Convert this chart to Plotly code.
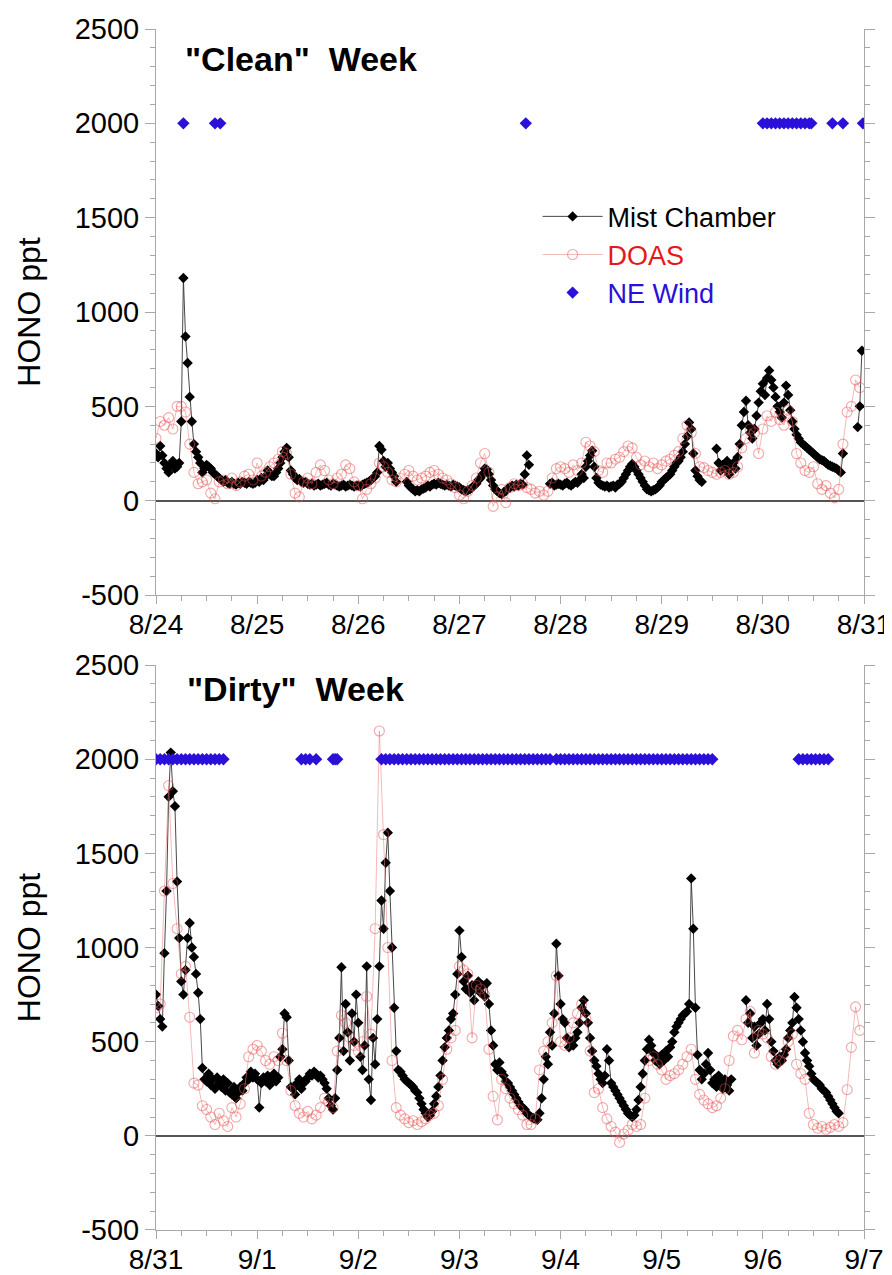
import plotly.graph_objects as go

# ---------------- data ----------------
# x positions are hours since the start of each week (0 = first date label)
CLEAN_TICKS = ["8/24", "8/25", "8/26", "8/27", "8/28", "8/29", "8/30", "8/31"]
DIRTY_TICKS = ["8/31", "9/1", "9/2", "9/3", "9/4", "9/5", "9/6", "9/7"]
TICK_HOURS = [0, 24, 48, 72, 96, 120, 144, 168]
Y_TICKS = [-500, 0, 500, 1000, 1500, 2000, 2500]
Y_TICK_TEXT = ["-500", "0", "500", "1000", "1500", "2000", "2500"]

MIST_STEP = 0.5   # mist chamber samples every half hour
DOAS_STEP = 1.0   # DOAS samples hourly

# Mist chamber, "Clean" week (half-hourly, ppt)
MIST_CLEAN = [
    # 8/24
    250, 230, 290, 240, 200, 170, 150, 190, 210, 170, 180, 200,
    420, 1180, 870, 730, 550, 420, 300, 260, 230, 200, 150, 170,
    190, 180, 170, 150, 140, 130, 120, 110, 100, 110, 95, 90,
    100, 90, 85, 95, 90, 100, 95, 90, 100, 95, 90, 95,
    # 8/25
    110, 100, 120, 110, 130, 160, 140, 130, 130, 150, 170, 200,
    230, 260, 280, 230, 160, 140, 120, 110, 115, 100, 95, 100,
    90, 85, 90, 80, 85, 90, 80, 85, 90, 95, 85, 80,
    90, 85, 80, 75, 80, 85, 75, 80, 85, 80, 75, 80,
    # 8/26
    80, 75, 85, 90, 95, 100, 110, 120, 130, 150, 290, 270,
    210, 180, 200, 170, 150, 130, 100, None, None, None, None, 100,
    80, 70, 60, 50, 55, 50, 60, 65, 70, 80, 75, 85,
    90, 85, 95, 90, 85, 80, 85, 80, 75, 85, 80, 75,
    # 8/27
    70, 60, 55, 50, 55, 60, 70, 80, 90, 110, 120, 140,
    170, 165, 140, 110, 80, 60, 50, 40, 35, 45, 50, 65,
    70, 80, 75, 85, 80, 90, 85, 140, 240, 190, None, None,
    None, None, None, None, None, None, None, 90, 95, 80, 85, 90,
    # 8/28
    85, 80, 90, 95, 85, 80, 90, 100, 95, 110, 140, 120,
    180, 210, 240, 265, 180, 120, 95, 85, 80, 75, 80, 70,
    75, 80, 70, 85, 90, 100, 120, 140, 160, 180, 195, 180,
    160, 140, 120, 100, 80, 60, 55, 50, 55, 60, 70, 80,
    # 8/29
    100, 110, 120, 130, 140, 160, 180, 200, 210, 230, 260, 300,
    340, 415, 380, 250, 160, 130, 110, 100, None, None, None, None,
    None, None, 275, 200, 160, 190, 170, 210, 140, 180, 200, 170,
    230, 300, 400, 470, 530, 400, 360, 330, 380, 450, 520, 580,
    # 8/30
    620, 560, 650, 690, 640, 600, 550, 500, 470, 440, 520, 610,
    560, 480, 420, 380, 350, 330, 310, 300, 290, 280, 270, 260,
    250, 240, 230, 220, 215, 210, 200, 190, 185, 180, 175, 170,
    160, 150, 250, None, None, None, None, None, None, 390, 500, 795,
]

# DOAS, "Clean" week (hourly, ppt)
DOAS_CLEAN = [
    330, 420, 400, 440, 380, 500, 500, 470, 300, 150, 90, 100, 110, 40, 10, 100, 110, 90, 120, 80, 100, 130, 140, 110,
    200, 130, 150, 180, 200, 220, 260, 250, 140, 40, 20, 100, 120, 90, 150, 190, 160, 110, 90, 120, 140, 190, 170, 100,
    80, 10, 60, 90, 120, 200, 180, 150, 110, 100, 120, 140, 160, 130, 110, 120, 130, 150, 160, 140, 120, 110, 90, 70,
    30, 10, 50, 80, 120, 200, 250, 150, -30, 20, 60, -10, 70, 90, 80, 90, 70, 60, 40, 50, 30, 50, 120, 170,
    180, 170, 150, 190, 160, 200, 310, 290, 260, 160, 150, 200, 200, 220, 230, 260, 290, 280, 230, 190, 210, 180, 200, 170,
    190, 210, 220, 240, 260, 330, 400, 360, 250, 180, 175, 160, 150, 140, 150, 160, 140, 150, 180, 280, 330, 380, 360, 250,
    380, 450, 420, 470, 430, 400, 480, 420, 250, 200, 160, 150, 180, 90, 60, 80, 40, 15, 60, 300, 470, 500, 640, 600,
]

# Mist chamber, "Dirty" week (half-hourly, ppt)
MIST_DIRTY = [
    # 8/31
    750, 690, 620, 580, 970, 1300, 1800, 2035, 1830, 1750, 1350, 1050,
    820, 750, 880, 1050, 1130, 1000, 950, 860, 760, 620, 360, 300,
    290, 330, 270, 300, 250, 310, 280, 260, 300, 240, 280, 230,
    220, 260, 200, 230, 260, 240, 280, 310, 300, 340, 310, 330,
    # 9/1
    300, 150, 280, 310, 290, 320, 270, 300, 330, 290, 310, 420,
    460, 650, 630, 400, 260, 250, 220, 280, 300, 250, 280, 290,
    310, 330, 320, 340, 330, 310, 320, 300, 280, 250, 200, 160,
    140, 200, 350, 520, 895, 450, 700, 550, 400, 650, 500, 750,
    # 9/2
    600, 420, 350, 480, 900, 300, 190, 520, 380, 620, 900, 1250,
    1100, 1450, 1610, 1300, 1000, 680, 450, 350, 340, 320, 300, 290,
    280, 270, 260, 240, 230, 200, 170, 140, 120, 100, 110, 130,
    170, 210, 260, 320, 400, 470, 520, 560, 620, 650, 750, 860,
    # 9/3
    1090, 950, 820, 780, 850, 760, 800, 720, 780, 820, 760, 800,
    740, 810, 700, 560, 480, 380, 350, 390, 340, 320, 290, 280,
    260, 240, 220, 200, 180, 160, 150, 140, 120, 110, 100, 95,
    90, 85, 120, 200, 300, 420, 380, 550, 480, 650, 1020, 850,
    # 9/4
    700, 620, 600, 520, 470, 500, 480, 520, 550, 600, 680, 720,
    650, 600, 520, 450, 400, 370, 330, 300, 280, 320, 460, 400,
    280, 260, 240, 220, 200, 180, 160, 140, 120, 110, 100, 110,
    140, 190, 260, 330, 400, 460, 510, 480, 440, 400, 420, 380,
    # 9/5
    430, 400, 450, 420, 470, 500, 550, 580, 600, 620, 640, 650,
    660, 700, 1367, 1100, 680, 430, 350, 300, 330, 380, 440, 350,
    280, 300, 260, 320, 290, 250, 300, 270, 240, 300, None, None,
    None, None, None, None, 720, 600, 650, 520, 580, 480, 540, 600,
    # 9/6
    620, 560, 700, 620, 500, 450, 400, 380, 420, 400, 430, 460,
    520, 560, 600, 737, 680, 620, 560, 500, 440, 400, 370, 330,
    300, 290, 280, 270, 250, 240, 230, 210, 190, 170, 150, 130,
    120, None, None, None, None, None, None, None, None, None, None, None,
]

# DOAS, "Dirty" week (hourly, ppt)
DOAS_DIRTY = [
    680, 700, 1300, 1860, 1340, 1100, 860, 900, 630, 280, 270, 160, 140, 100, 60, 120, 80, 50, 150, 100, 170, 250, 420, 460,
    480, 450, 400, 380, 420, 400, 545, 400, 240, 160, 120, 100, 130, 90, 110, 150, 200, 180, 150, 450, 640, 600, 520, 480,
    450, 500, 740, 540, 1100, 2150, 1600, 1000, 400, 150, 110, 90, 70, 80, 60, 75, 90, 110, 120, 160, 300, 460, 520, 560,
    900, 880, 860, 520, 800, 780, 750, 460, 210, 85, 300, 250, 200, 170, 140, 110, 60, 60, 90, 350, 450, 500, 600, 850,
    500, 480, 520, 600, 650, 700, 620, 450, 230, 250, 150, 90, 50, 20, -35, 10, 30, 60, 50, 60, 200, 400, 420, 380,
    350, 300, 320, 330, 350, 380, 420, 460, 300, 220, 190, 170, 150, 160, 200, 250, 400, 530, 560, 510, 620, 660, 440, 560,
    540, 520, 420, 380, 400, 440, 500, 540, 380, 330, 300, 120, 60, 40, 50, 35, 45, 60, 50, 70, 245, 470, 685, 560,
]

# Hours with north-east wind (plotted at a flag level of 2000 ppt)
WIND_LEVEL = 2000
WIND_CLEAN_H = [6.5, 14, 15.25, 87.75,
                144, 145, 146, 147, 148, 149, 150, 151, 152, 153, 154, 155, 155.5,
                160.5, 163, 167.75]
WIND_DIRTY_H = [0, 1, 2, 3, 4, 5, 6, 7, 8, 9, 10, 11, 12, 13, 14, 15, 16,
                34.5, 35.5, 36.5, 38,
                42, 42.5, 43,
                53.5, 54.5, 55.5, 56.5, 57.5, 58.5, 59.5, 60.5, 61.5, 62.5, 63.5, 64.5, 65.5, 66.5,
                67.5, 68.5, 69.5, 70.5, 71.5, 72.5, 73.5, 74.5, 75.5, 76.5, 77.5, 78.5, 79.5, 80.5,
                81.5, 82.5, 83.5, 84.5, 85.5, 86.5, 87.5, 88.5, 89.5, 90.5, 91.5, 92.5, 93.5,
                95, 96, 97, 98, 99, 100, 101, 102, 103, 104, 105, 106, 107, 108, 109, 110, 111, 112,
                113, 114, 115, 116, 117, 118, 119, 120, 121, 122, 123, 124, 125, 126, 127, 128, 129,
                130, 131, 132,
                152.5, 153.5, 154.5, 155.5, 156.5, 157.5, 158.5, 159.5]

# ---------------- styling ----------------
FONT = "Liberation Sans, Arial, Helvetica, sans-serif"
BLUE = "#2a10d8"
RED_TXT = "#e3191c"
DOAS_MARK = "rgba(232,80,80,0.5)"
DOAS_LINE = "rgba(235,130,130,0.7)"
AXIS_GRAY = "#a8a8a8"


def hours(n, step):
    return [i * step for i in range(n)]


fig = go.Figure()

panels = [
    ("x", "y", MIST_CLEAN, DOAS_CLEAN, WIND_CLEAN_H, True),
    ("x2", "y2", MIST_DIRTY, DOAS_DIRTY, WIND_DIRTY_H, False),
]
for xa, ya, mist, doas, wind, show in panels:
    fig.add_trace(go.Scatter(
        x=hours(len(mist), MIST_STEP), y=mist, xaxis=xa, yaxis=ya,
        mode="lines+markers", name="Mist Chamber", showlegend=show,
        line=dict(color="#333333", width=0.9),
        marker=dict(symbol="diamond", size=8, color="black"),
        connectgaps=False,
    ))
    fig.add_trace(go.Scatter(
        x=hours(len(doas), DOAS_STEP), y=doas, xaxis=xa, yaxis=ya,
        mode="lines+markers",
        name='<span style="color:%s">DOAS</span>' % RED_TXT, showlegend=show,
        line=dict(color=DOAS_LINE, width=0.8),
        marker=dict(symbol="circle-open", size=10, color=DOAS_MARK, line=dict(width=1.1)),
    ))
    fig.add_trace(go.Scatter(
        x=wind, y=[WIND_LEVEL] * len(wind), xaxis=xa, yaxis=ya,
        mode="markers",
        name='<span style="color:%s">NE Wind</span>' % BLUE, showlegend=show,
        marker=dict(symbol="diamond", size=9.5, color=BLUE, line=dict(width=0)),
    ))

xcommon = dict(
    range=[0, 168], tickmode="array", tickvals=TICK_HOURS, automargin=False,
    ticklabeloverflow="allow", ticklabelstandoff=-4,
    showline=True, linecolor=AXIS_GRAY, linewidth=1, mirror=False,
    ticks="outside", ticklen=8, tickcolor=AXIS_GRAY, showgrid=False, zeroline=False,
    minor=dict(dtick=6, tick0=0, ticks="outside", ticklen=5, tickcolor=AXIS_GRAY, showgrid=False),
    tickfont=dict(family=FONT, size=28, color="black"),
)
ycommon = dict(
    range=[-500, 2500], tickmode="array", tickvals=Y_TICKS, ticktext=Y_TICK_TEXT,
    automargin=False, ticklabelstandoff=0,
    showline=True, linecolor=AXIS_GRAY, linewidth=1, mirror="ticks",
    ticks="outside", ticklen=10, tickcolor=AXIS_GRAY, showgrid=False,
    zeroline=True, zerolinecolor="#555555", zerolinewidth=1.6,
    minor=dict(dtick=100, tick0=0, ticks="outside", ticklen=5, tickcolor=AXIS_GRAY, showgrid=False),
    tickfont=dict(family=FONT, size=29, color="black"),
    title=dict(text="HONO ppt", font=dict(family=FONT, size=32, color="black"), standoff=24),
)

# The page body adds an 8px offset, so the figure is 8px smaller than the window.
fig.update_layout(
    width=884, height=1267,
    margin=dict(l=148, r=28, t=21, b=45, autoexpand=False),
    paper_bgcolor="white", plot_bgcolor="white",
    xaxis=dict(domain=[0, 1], anchor="y", ticktext=CLEAN_TICKS, **xcommon),
    yaxis=dict(domain=[0.5287, 1], anchor="x", **ycommon),
    xaxis2=dict(domain=[0, 1], anchor="y2", ticktext=DIRTY_TICKS, **xcommon),
    yaxis2=dict(domain=[0, 0.4704], anchor="x2", **ycommon),
    legend=dict(x=0.539, y=0.864, xanchor="left", yanchor="top",
                bgcolor="rgba(0,0,0,0)", font=dict(family=FONT, size=27, color="black"),
                itemwidth=60, tracegroupgap=0),
    annotations=[
        dict(text='<b>"Clean"\u00a0\u00a0Week</b>', x=6.4, y=2343, xref="x", yref="y",
             xanchor="left", yanchor="middle", showarrow=False,
             font=dict(family=FONT, size=34, color="black")),
        dict(text='<b>"Dirty"\u00a0\u00a0Week</b>', x=6.9, y=2374, xref="x2", yref="y2",
             xanchor="left", yanchor="middle", showarrow=False,
             font=dict(family=FONT, size=34, color="black")),
    ],
)

fig.write_html("out.html")
